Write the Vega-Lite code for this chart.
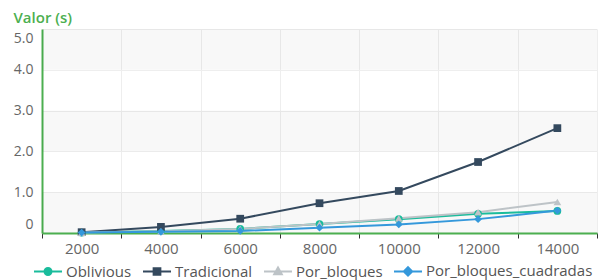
{
  "$schema": "https://vega.github.io/schema/vega-lite/v6.json",
  "autosize": "none",
  "width": 555,
  "height": 204,
  "padding": {"left": 42, "top": 29, "right": 18, "bottom": 47},
  "background": "white",
  "config": {
    "view": {"stroke": null},
    "font": "Open Sans",
    "axis": {"labelFont": "Open Sans", "titleFont": "Open Sans"},
    "legend": {"labelFont": "Open Sans"}
  },
  "data": {
    "values": [
      {"n": "2000", "series": "Oblivious", "v": 0.01},
      {"n": "4000", "series": "Oblivious", "v": 0.05},
      {"n": "6000", "series": "Oblivious", "v": 0.1},
      {"n": "8000", "series": "Oblivious", "v": 0.22},
      {"n": "10000", "series": "Oblivious", "v": 0.34},
      {"n": "12000", "series": "Oblivious", "v": 0.47},
      {"n": "14000", "series": "Oblivious", "v": 0.54},
      {"n": "2000", "series": "Tradicional", "v": 0.02},
      {"n": "4000", "series": "Tradicional", "v": 0.15},
      {"n": "6000", "series": "Tradicional", "v": 0.35},
      {"n": "8000", "series": "Tradicional", "v": 0.73},
      {"n": "10000", "series": "Tradicional", "v": 1.03},
      {"n": "12000", "series": "Tradicional", "v": 1.74},
      {"n": "14000", "series": "Tradicional", "v": 2.57},
      {"n": "2000", "series": "Por_bloques", "v": 0.01},
      {"n": "4000", "series": "Por_bloques", "v": 0.04},
      {"n": "6000", "series": "Por_bloques", "v": 0.1},
      {"n": "8000", "series": "Por_bloques", "v": 0.22},
      {"n": "10000", "series": "Por_bloques", "v": 0.36},
      {"n": "12000", "series": "Por_bloques", "v": 0.51},
      {"n": "14000", "series": "Por_bloques", "v": 0.76},
      {"n": "2000", "series": "Por_bloques_cuadradas", "v": 0.01},
      {"n": "4000", "series": "Por_bloques_cuadradas", "v": 0.03},
      {"n": "6000", "series": "Por_bloques_cuadradas", "v": 0.05},
      {"n": "8000", "series": "Por_bloques_cuadradas", "v": 0.13},
      {"n": "10000", "series": "Por_bloques_cuadradas", "v": 0.21},
      {"n": "12000", "series": "Por_bloques_cuadradas", "v": 0.34},
      {"n": "14000", "series": "Por_bloques_cuadradas", "v": 0.55}
    ]
  },
  "layer": [
    {
      "data": {"values": [{"y0": 0, "y1": 1}, {"y0": 2, "y1": 3}, {"y0": 4, "y1": 5}]},
      "mark": {"type": "rect", "color": "#000000", "opacity": 0.028},
      "encoding": {
        "y": {"field": "y0", "type": "quantitative", "scale": {"domain": [0, 5]}},
        "y2": {"field": "y1"}
      }
    },
    {
      "mark": {"type": "line", "strokeWidth": 2},
      "encoding": {
        "x": {
          "field": "n", "type": "ordinal", "sort": null,
          "scale": {"paddingInner": 0, "paddingOuter": 0},
          "axis": {
            "title": null, "labelAngle": 0, "tickBand": "extent",
            "domainColor": "#4caf50", "domainWidth": 2,
            "tickColor": "#333", "tickSize": 5, "tickWidth": 1,
            "labelColor": "#666", "labelFontSize": 15, "labelPadding": 3,
            "grid": true, "gridColor": "#eeeeee"
          }
        },
        "y": {
          "field": "v", "type": "quantitative",
          "scale": {"domain": [0, 5]},
          "axis": {
            "title": "Valor (s)", "titleAngle": 0, "titleAlign": "left", "titleBaseline": "middle",
            "titleX": -29, "titleY": -12, "titleColor": "#4caf50", "titleFontSize": 15, "titleFontWeight": 600,
            "values": [0, 1, 2, 3, 4, 5],
            "labelExpr": "datum.value === 0 ? '0' : format(datum.value, '.1f')",
            "labelColor": "#666", "labelFontSize": 14, "labelPadding": 9,
            "labelFlush": true, "labelFlushOffset": -2,
            "ticks": false, "domainColor": "#4caf50", "domainWidth": 2,
            "grid": true, "gridColor": "#eeeeee"
          }
        },
        "color": {
          "field": "series", "type": "nominal",
          "scale": {
            "domain": ["Oblivious", "Tradicional", "Por_bloques", "Por_bloques_cuadradas"],
            "range": ["#1abc9c", "#34495e", "#bdc3c7", "#3498db"]
          },
          "legend": {
            "title": null, "orient": "none", "direction": "horizontal",
            "legendX": -9, "legendY": 227,
            "symbolSize": 784, "symbolStrokeWidth": 2,
            "labelFontSize": 15, "labelColor": "#555", "labelOffset": 3,
            "labelLimit": 400, "columnPadding": 7,
            "encode": {
              "symbols": {
                "update": {
                  "shape": {"signal": "({'Oblivious':'M-1,0H1M-0.25,0a0.25,0.25 0 1,0 0.5,0a0.25,0.25 0 1,0 -0.5,0Z','Tradicional':'M-1,0H1M-0.24,-0.24H0.24V0.24H-0.24Z','Por_bloques':'M-1,0H1M0,-0.28L0.27,0.2H-0.27Z','Por_bloques_cuadradas':'M-1,0H1M0,-0.3L0.3,0L0,0.3L-0.3,0Z'})[datum.value]"},
                  "fill": {"scale": "color", "field": "value"},
                  "stroke": {"scale": "color", "field": "value"},
                  "opacity": {"value": 1}
                }
              }
            }
          }
        }
      }
    },
    {
      "mark": {"type": "point", "filled": true, "opacity": 1, "size": 60},
      "encoding": {
        "x": {"field": "n", "type": "ordinal", "sort": null},
        "y": {"field": "v", "type": "quantitative"},
        "shape": {
          "condition": [
            {"test": "datum.series === 'Oblivious'", "value": "circle"},
            {"test": "datum.series === 'Tradicional'", "value": "square"},
            {"test": "datum.series === 'Por_bloques'", "value": "triangle-up"}
          ],
          "value": "diamond"
        },
        "color": {"field": "series", "type": "nominal"}
      }
    }
  ]
}
